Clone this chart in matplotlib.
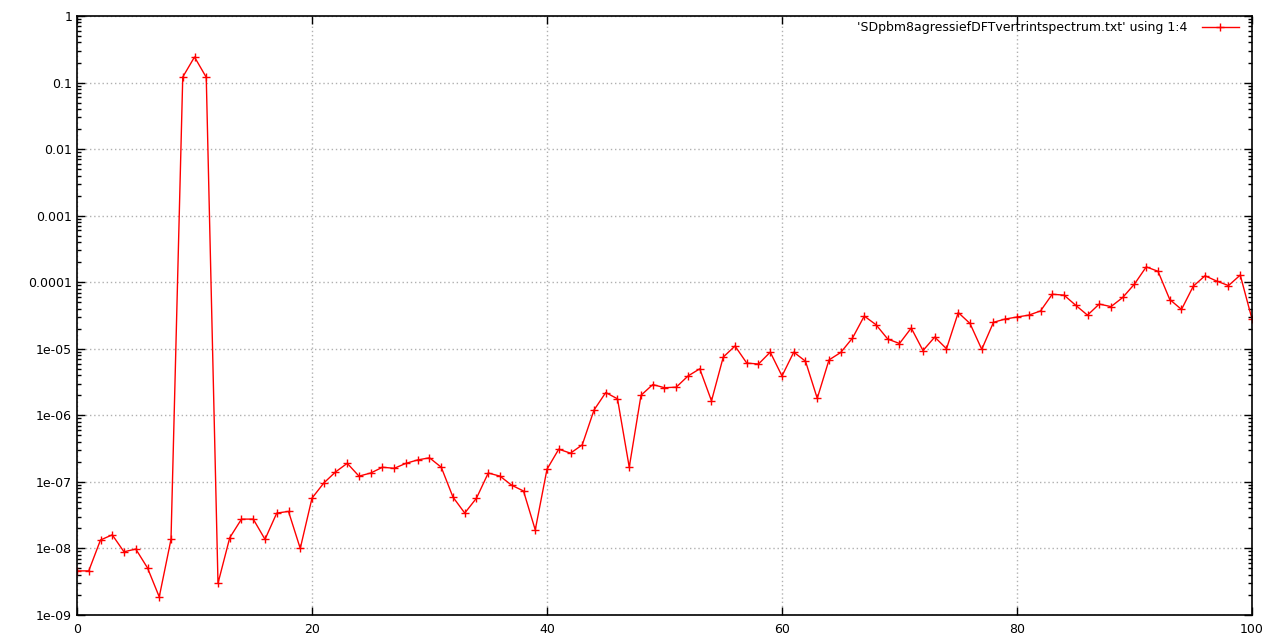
import matplotlib
matplotlib.use("Agg")
import matplotlib.pyplot as plt
from matplotlib.ticker import FixedLocator, LogLocator, NullFormatter

x = list(range(101))
y = [4.6e-9, 4.6e-9, 1.34e-8, 1.6e-8, 8.9e-9, 9.8e-9, 5.1e-9, 1.87e-9, 1.37e-8, 0.121,
     0.242, 0.12, 3.0e-9, 1.45e-8, 2.76e-8, 2.76e-8, 1.37e-8, 3.4e-8, 3.6e-8, 1.0e-8,
     5.7e-8, 9.6e-8, 1.41e-7, 1.9e-7, 1.22e-7, 1.36e-7, 1.66e-7, 1.6e-7, 1.9e-7, 2.14e-7,
     2.3e-7, 1.66e-7, 5.9e-8, 3.4e-8, 5.7e-8, 1.36e-7, 1.22e-7, 8.9e-8, 7.3e-8, 1.9e-8,
     1.55e-7, 3.1e-7, 2.7e-7, 3.6e-7, 1.2e-6, 2.2e-6, 1.77e-6, 1.66e-7, 2.0e-6, 2.9e-6,
     2.6e-6, 2.65e-6, 3.9e-6, 5.0e-6, 1.65e-6, 7.5e-6, 1.1e-5, 6.1e-6, 5.9e-6, 8.9e-6,
     3.9e-6, 8.9e-6, 6.5e-6, 1.8e-6, 6.8e-6, 8.8e-6, 1.45e-5, 3.1e-5, 2.3e-5, 1.4e-5,
     1.2e-5, 2.05e-5, 9.4e-6, 1.5e-5, 1.0e-5, 3.5e-5, 2.4e-5, 9.8e-6, 2.5e-5, 2.8e-5,
     3.0e-5, 3.2e-5, 3.7e-5, 6.6e-5, 6.4e-5, 4.5e-5, 3.2e-5, 4.7e-5, 4.3e-5, 5.9e-5,
     9.4e-5, 1.7e-4, 1.46e-4, 5.5e-5, 3.9e-5, 8.7e-5, 1.25e-4, 1.04e-4, 8.9e-5, 1.28e-4,
     2.8e-5]

xticks = [0, 20, 40, 60, 80, 100]
yticks = [1, 0.1, 0.01, 0.001, 0.0001, 1e-5, 1e-6, 1e-7, 1e-8, 1e-9]
ytick_labels = ["1", "0.1", "0.01", "0.001", "0.0001", "1e-05", "1e-06", "1e-07", "1e-08", "1e-09"]
legend_label = "'SDpbm8agressiefDFTvertrintspectrum.txt' using 1:4"

plt.rcParams['font.family'] = ['DejaVu Sans']
fig = plt.figure(figsize=(12.76, 6.41), dpi=100)
ax = fig.add_axes([77/1276, 26/641, (1252-77)/1276, (615-16)/641])

ax.plot(x, y, color='#ff0000', lw=1, marker='+', markersize=6, markeredgewidth=1,
        label=legend_label)
ax.set_yscale('log')
ax.set_xlim(0, 100)
ax.set_ylim(1e-9, 1)

ax.xaxis.set_major_locator(FixedLocator(xticks))
ax.set_xticklabels([str(v) for v in xticks])
ax.yaxis.set_major_locator(FixedLocator(yticks))
ax.set_yticklabels(ytick_labels)
ax.yaxis.set_minor_locator(LogLocator(base=10, subs=range(2, 10), numticks=20))
ax.yaxis.set_minor_formatter(NullFormatter())

ax.tick_params(axis='both', which='both', direction='in', top=True, right=True,
               labelsize=9, colors='black', width=1)
ax.tick_params(which='major', length=6)
ax.tick_params(which='minor', length=3)
ax.tick_params(axis='x', pad=6)

ax.grid(True, which='major', color='#b0b0b0', linestyle=(0, (1, 2)), linewidth=1)
for s in ax.spines.values():
    s.set_linewidth(1.2)
    s.set_color('black')

leg = ax.legend(loc='upper right', frameon=False, fontsize=9, markerfirst=False,
                handlelength=3.0, borderaxespad=0, borderpad=0, handletextpad=1.1,
                bbox_to_anchor=(1239/1276, 1 - 21/641), bbox_transform=fig.transFigure)

fig.savefig('out.png', dpi=100)
